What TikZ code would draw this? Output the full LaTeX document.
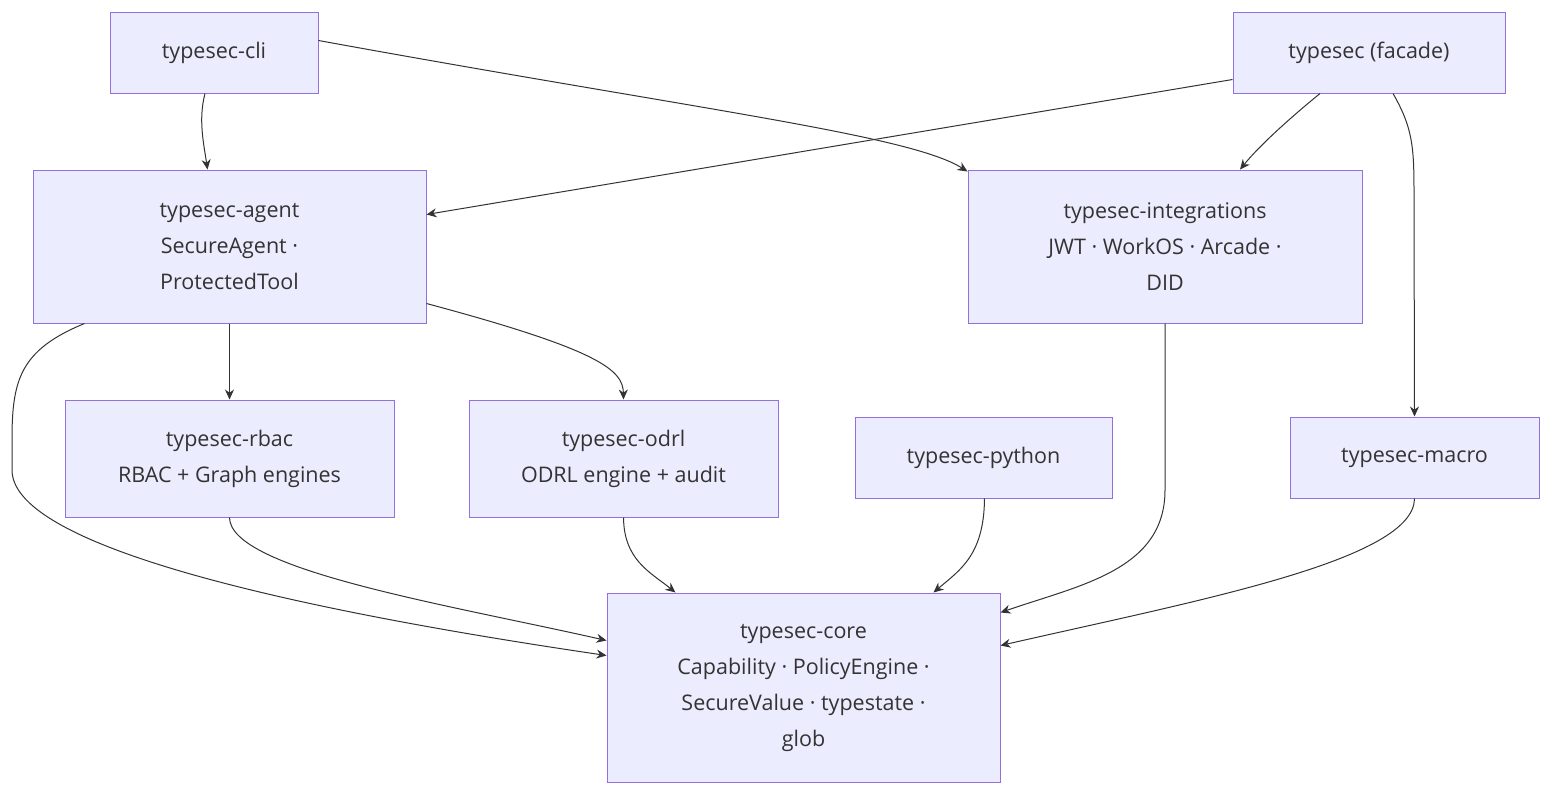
\documentclass[tikz,border=0pt]{standalone}
\usepackage{fontspec}
\setmainfont{Open Sans}
\usetikzlibrary{arrows.meta}
\definecolor{nfill}{HTML}{ECECFF}
\definecolor{nline}{HTML}{9370DB}
\definecolor{eline}{HTML}{333333}
\begin{document}
\begin{tikzpicture}[x=1pt,y=-1pt,
  box/.style={draw=nline,fill=nfill,line width=1pt,inner sep=0pt,align=center,font=\fontsize{21.5}{36}\selectfont,text=eline},
  edge/.style={draw=eline,line width=1pt,-{Stealth[length=10pt,width=9pt]}}]
\useasboundingbox (0,0) rectangle (1568,804);
\node[box,minimum width=208,minimum height=81] (cli) at (214,52.5) {typesec-cli};
\node[box,minimum width=272,minimum height=81] (fac) at (1369,52.5) {typesec (facade)};
\node[box,minimum width=393,minimum height=153] (agent) at (229.5,246.5) {typesec-agent\\SecureAgent ·\\ProtectedTool};
\node[box,minimum width=394,minimum height=153] (integ) at (1165,246.5) {typesec-integrations\\JWT · WorkOS · Arcade ·\\DID};
\node[box,minimum width=329,minimum height=117] (rbac) at (229.5,458.5) {typesec-rbac\\RBAC + Graph engines};
\node[box,minimum width=309,minimum height=117] (odrl) at (623.5,458.5) {typesec-odrl\\ODRL engine + audit};
\node[box,minimum width=257,minimum height=81] (py) at (983.5,457.5) {typesec-python};
\node[box,minimum width=249,minimum height=81] (mac) at (1414.5,457.5) {typesec-macro};
\node[box,minimum width=393,minimum height=189] (core) at (803.5,687.5) {typesec-core\\Capability · PolicyEngine ·\\SecureValue · typestate ·\\glob};
% edges
\draw[edge] ([xshift=-9]cli.south) .. controls (198,120) and (204,145) .. ([xshift=-22]agent.north);
\draw[edge] ([yshift=12]cli.east) .. controls (700,110) and (910,135) .. ([yshift=-2]integ.north west);
\draw[edge] ([yshift=-27]fac.west) -- ([yshift=32]agent.east);
\draw[edge] ([xshift=-49]fac.south) .. controls (1290,118) and (1260,145) .. ([xshift=75]integ.north);
\draw[edge] ([xshift=24]fac.south) .. controls (1414,130) and (1414,150) .. (1414,200) -- (mac.north);
\draw[edge] ([xshift=52]agent.south west) .. controls (20,350) and (12,380) .. (12,440) -- (12,470) .. controls (12,560) and (400,625) .. ([yshift=32]core.west);
\draw[edge] (agent.south) -- (rbac.north);
\draw[edge] ([yshift=20]agent.south east) .. controls (600,350) and (623,370) .. (odrl.north);
\draw[edge] (rbac.south) .. controls (230,570) and (450,605) .. ([yshift=47]core.west);
\draw[edge] (odrl.south) .. controls (624,560) and (650,572) .. ([xshift=-128]core.north);
\draw[edge] ([xshift=1]py.south) .. controls (984,555) and (960,570) .. ([xshift=130]core.north);
\draw[edge] (integ.south) -- (1165,490) .. controls (1165,570) and (1080,585) .. ([yshift=75]core.east);
\draw[edge] (mac.south) .. controls (1414,560) and (1200,600) .. ([yshift=42]core.east);
\end{tikzpicture}
\end{document}
